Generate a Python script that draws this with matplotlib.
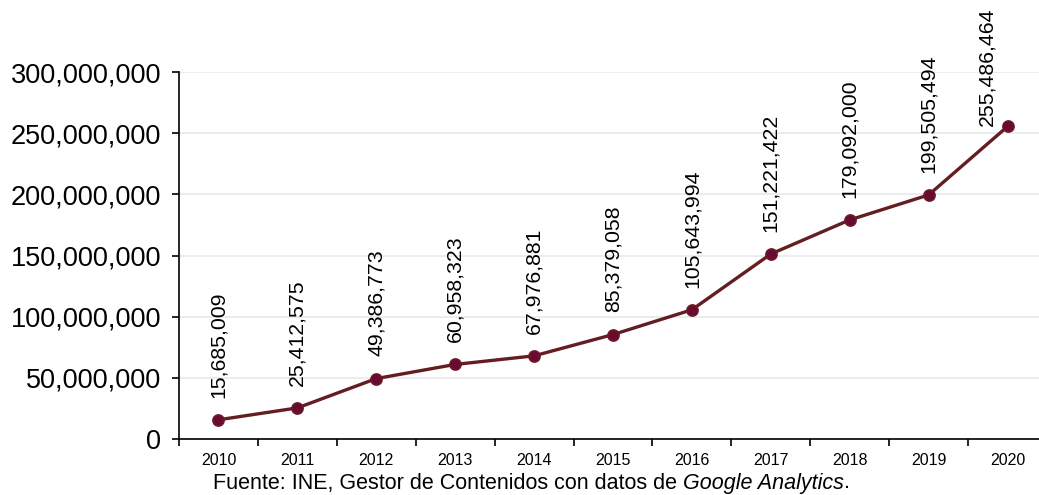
import numpy as np
import matplotlib.pyplot as plt
from matplotlib.ticker import FuncFormatter

plt.rcParams['font.family'] = ['Liberation Sans', 'DejaVu Sans']

# datos
years = ['2010', '2011', '2012', '2013', '2014', '2015',
         '2016', '2017', '2018', '2019', '2020']
values = [15685009, 25412575, 49386773, 60958323, 67976881, 85379058,
          105643994, 151221422, 179092000, 199505494, 255486464]
yticks = [0, 50000000, 100000000, 150000000, 200000000, 250000000, 300000000]

W, H = 1039, 495
fig = plt.figure(figsize=(W / 100, H / 100), dpi=100)
# axes runs a bit past the right edge, like the reference
ax = fig.add_axes([179 / W, 1 - 439 / H, 868 / W, (439 - 72) / H])

x = np.arange(len(years))
ax.plot(x, values, color='#641e22', lw=2.4, marker='o', ms=8,
        mfc='#6a0a30', mec='#6a1a28', mew=1.2, zorder=3, clip_on=False)

for i, v in enumerate(values):
    if i == len(values) - 1:
        dx, dy = -15, 0
    else:
        dx, dy = 0, 16
    ax.annotate(f'{v:,}', (x[i], v), xytext=(dx, dy), textcoords='offset points',
                rotation=90, ha='center', va='bottom', fontsize=15.3,
                annotation_clip=False)

ax.set_xlim(-0.5, len(years) - 0.5)
ax.set_ylim(0, 300000000)
ax.set_yticks(yticks)
ax.yaxis.set_major_formatter(FuncFormatter(lambda v, p: f'{int(v):,}'))
ax.tick_params(axis='y', labelsize=19.5, length=5, width=1.2, direction='out', pad=8)

# year labels centered, ticks between categories
ax.set_xticks(x)
ax.set_xticklabels(years, fontsize=11.5)
ax.tick_params(axis='x', length=0, pad=10)
ax.set_xticks(np.arange(-0.5, len(years), 1), minor=True)
ax.tick_params(axis='x', which='minor', length=5, width=1.2, direction='out')

ax.grid(axis='y', color='#ebebeb', lw=1.3, zorder=0)
ax.set_axisbelow(True)
for s in ['top', 'right']:
    ax.spines[s].set_visible(False)
ax.spines['left'].set_linewidth(1.2)
ax.spines['bottom'].set_linewidth(1.2)

# fuente, with the italic part
fs = 15.5
ty = 1 - 483 / H
fig.text(213 / W, ty, 'Fuente: INE, Gestor de Contenidos con datos de ',
         fontsize=fs, va='center', ha='left')
fig.canvas.draw()
bb = fig.texts[0].get_window_extent()
fig.text(bb.x1 / W, ty, 'Google Analytics', fontsize=fs,
         style='italic', va='center', ha='left')
fig.canvas.draw()
bb2 = fig.texts[-1].get_window_extent()
fig.text(bb2.x1 / W, ty, '.', fontsize=fs, va='center', ha='left')

fig.savefig('out.png', dpi=100)
